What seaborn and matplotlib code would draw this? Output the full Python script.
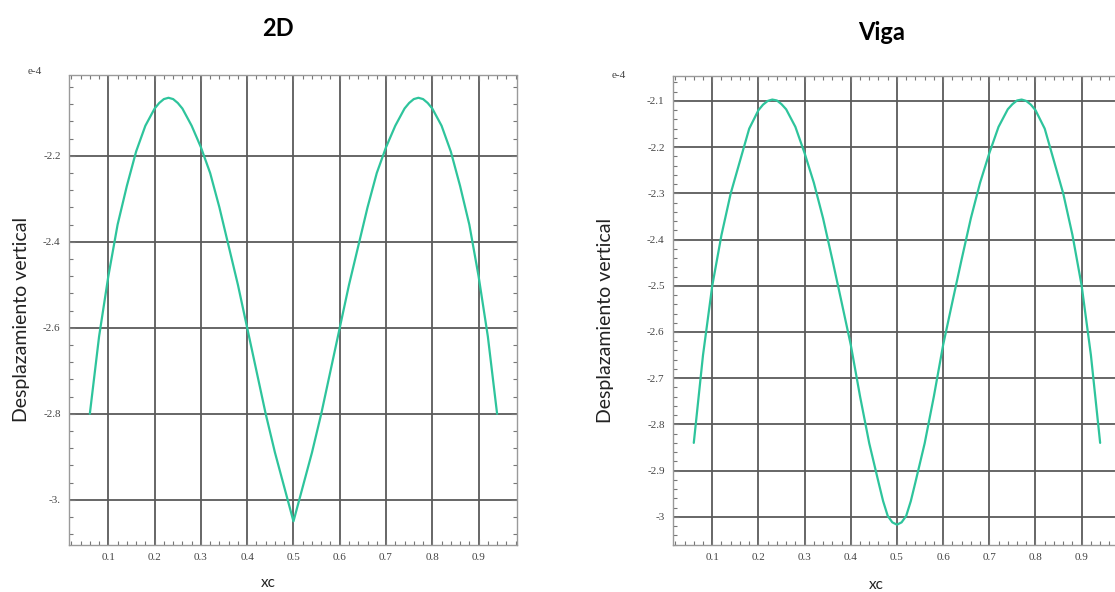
import matplotlib
matplotlib.use("Agg")
import matplotlib.pyplot as plt
import seaborn as sns
import pandas as pd
from matplotlib.ticker import MultipleLocator, FixedLocator

# ---------------- data (values in units of 1e-4) ----------------
xc = [0.06, 0.08, 0.10, 0.12, 0.14, 0.16, 0.18, 0.20,
      0.21, 0.22, 0.23, 0.24, 0.25, 0.26,
      0.28, 0.30, 0.32, 0.34, 0.36, 0.38, 0.40, 0.42, 0.44, 0.46,
      0.47, 0.48, 0.49, 0.50, 0.51, 0.52, 0.53,
      0.54, 0.56, 0.58, 0.60, 0.62, 0.64, 0.66, 0.68, 0.70, 0.72, 0.74,
      0.75, 0.76, 0.77, 0.78, 0.79, 0.80,
      0.82, 0.84, 0.86, 0.88, 0.90, 0.92, 0.94]

desp_2d = [-2.80, -2.62, -2.48, -2.36, -2.27, -2.19, -2.13, -2.09,
           -2.077, -2.068, -2.065, -2.068, -2.077, -2.09,
           -2.13, -2.18, -2.24, -2.32, -2.41, -2.50, -2.60, -2.70, -2.80, -2.89,
           -2.93, -2.97, -3.01, -3.05, -3.01, -2.97, -2.93,
           -2.89, -2.80, -2.70, -2.60, -2.50, -2.41, -2.32, -2.24, -2.18, -2.13, -2.09,
           -2.077, -2.068, -2.065, -2.068, -2.077, -2.09,
           -2.13, -2.19, -2.27, -2.36, -2.48, -2.62, -2.80]

desp_viga = [-2.84, -2.65, -2.50, -2.39, -2.30, -2.23, -2.16, -2.12,
             -2.108, -2.100, -2.097, -2.099, -2.107, -2.118,
             -2.156, -2.213, -2.277, -2.354, -2.443, -2.535, -2.628, -2.739, -2.841, -2.925,
             -2.966, -2.998, -3.012, -3.017, -3.012, -2.998, -2.966,
             -2.925, -2.841, -2.739, -2.628, -2.535, -2.443, -2.354, -2.277, -2.213, -2.156, -2.118,
             -2.107, -2.099, -2.097, -2.100, -2.108, -2.12,
             -2.16, -2.23, -2.30, -2.39, -2.50, -2.65, -2.84]

x_ticks = [0.1, 0.2, 0.3, 0.4, 0.5, 0.6, 0.7, 0.8, 0.9]
x_ticklabels = ["0.1", "0.2", "0.3", "0.4", "0.5", "0.6", "0.7", "0.8", "0.9"]

y_ticks_2d = [-2.2, -2.4, -2.6, -2.8, -3.0]
y_ticklabels_2d = ["-2.2", "-2.4", "-2.6", "-2.8", "-3."]

y_ticks_viga = [-2.1, -2.2, -2.3, -2.4, -2.5, -2.6, -2.7, -2.8, -2.9, -3.0]
y_ticklabels_viga = ["-2.1", "-2.2", "-2.3", "-2.4", "-2.5", "-2.6", "-2.7", "-2.8", "-2.9", "-3"]

titles = ["2D", "Viga"]
ylabel = "Desplazamiento vertical"
xlabel = "xc"
exponent = "e-4"

# ---------------- style ----------------
sns.set_style("white")
plt.rcParams["font.family"] = ["Lato", "DejaVu Sans"]

line_color = "#2ec49c"
grid_color = "#5a5a5a"
W, H = 1115, 592

fig = plt.figure(figsize=(W / 100, H / 100), dpi=100)
fig.patch.set_facecolor("white")


def px_ax(x0, y0, x1, y1):
    return fig.add_axes([x0 / W, 1 - y1 / H, (x1 - x0) / W, (y1 - y0) / H])


ax1 = px_ax(69, 75, 517, 545)
ax2 = px_ax(673, 76, 1120, 545)

df1 = pd.DataFrame({"xc": xc, "d": desp_2d})
df2 = pd.DataFrame({"xc": xc, "d": desp_viga})

sns.lineplot(data=df1, x="xc", y="d", ax=ax1, color=line_color, lw=1.6,
             sort=False, estimator=None)
sns.lineplot(data=df2, x="xc", y="d", ax=ax2, color=line_color, lw=1.6,
             sort=False, estimator=None)

configs = [
    (ax1, (-3.105, -2.012), y_ticks_2d, y_ticklabels_2d, 0.04),
    (ax2, (-3.061, -2.046), y_ticks_viga, y_ticklabels_viga, 0.02),
]

for ax, ylim, yt, ytl, yminor in configs:
    ax.set_xlim(0.015, 0.983)
    ax.set_ylim(*ylim)
    ax.xaxis.set_major_locator(FixedLocator(x_ticks))
    ax.set_xticklabels(x_ticklabels)
    ax.yaxis.set_major_locator(FixedLocator(yt))
    ax.set_yticklabels(ytl)
    ax.xaxis.set_minor_locator(MultipleLocator(0.02))
    ax.yaxis.set_minor_locator(MultipleLocator(yminor))
    ax.grid(True, which="major", color=grid_color, lw=1.3)
    ax.set_axisbelow(True)
    ax.tick_params(which="both", direction="in", top=True, right=True,
                   bottom=True, left=True, color="#777777")
    ax.tick_params(which="major", length=4, width=0.8, pad=6,
                   labelsize=8, labelcolor="#444444")
    ax.tick_params(which="minor", length=3, width=0.8)
    for lab in ax.get_xticklabels() + ax.get_yticklabels():
        lab.set_family(["Liberation Serif", "DejaVu Serif"])
    for sp in ax.spines.values():
        sp.set_visible(True)
        sp.set_color("#9a9a9a")
        sp.set_linewidth(1.0)
        sp.set_linestyle((0, (2, 1)))
    ax.set_xlabel("")
    ax.set_ylabel("")

# titles and labels
fig.text(278 / W, 1 - 36 / H, titles[0], ha="center", va="baseline",
         fontsize=17, fontweight="bold", color="black")
fig.text(882 / W, 1 - 40 / H, titles[1], ha="center", va="baseline",
         fontsize=17, fontweight="bold", color="black")

fig.text(22 / W, 1 - 319 / H, ylabel, rotation=90, ha="center", va="center",
         fontsize=14, color="#222222")
fig.text(606 / W, 1 - 320 / H, ylabel, rotation=90, ha="center", va="center",
         fontsize=14, color="#222222")

fig.text(268 / W, 1 - 583 / H, xlabel, ha="center", va="center",
         fontsize=11, color="#222222")
fig.text(876 / W, 1 - 585 / H, xlabel, ha="center", va="center",
         fontsize=11, color="#222222")

fig.text(35 / W, 1 - 72 / H, exponent, ha="center", va="center", fontsize=8,
         color="#444444", family=["Liberation Serif", "DejaVu Serif"])
fig.text(619 / W, 1 - 75 / H, exponent, ha="center", va="center", fontsize=8,
         color="#444444", family=["Liberation Serif", "DejaVu Serif"])

fig.savefig("out.png", dpi=100, facecolor="white")
